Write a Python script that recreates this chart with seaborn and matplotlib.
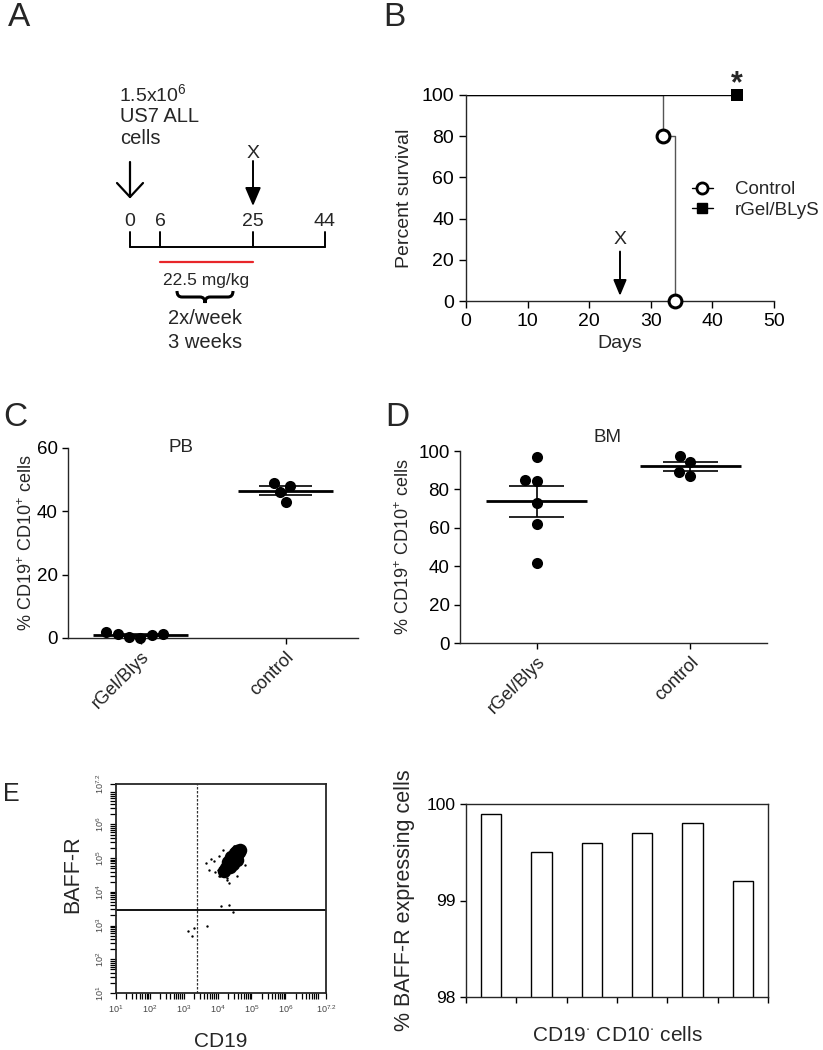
import numpy as np
import pandas as pd
import seaborn as sns
import matplotlib.pyplot as plt
from matplotlib.lines import Line2D
from matplotlib.path import Path
from matplotlib.patches import PathPatch
from matplotlib.ticker import FixedLocator, LogLocator, NullFormatter

# --- A: treatment schedule
timeline_days = [0, 6, 25, 44]
dose_start, dose_end = 6, 25

# --- B: survival curves
control_days = [0, 32, 34]
control_surv = [100, 80, 0]
rgel_days = [0, 44]
rgel_surv = [100, 100]
treatment_stop_day = 25

# --- C / D: % CD19+ CD10+ cells
groups = ['rGel/Blys', 'control']
pb_rgel = [1.3, 0.8, 0.1, 1.9, 0.2, 1.2]
pb_control = [47.9, 49.1, 43.0, 46.1]
bm_rgel = [97.0, 84.9, 84.2, 72.7, 61.9, 41.7]
bm_control = [94.3, 97.4, 87.0, 89.1]

# --- E: flow events (log10 fluorescence)
core_cd19 = [4.20, 4.26, 4.32, 4.38, 4.44, 4.50, 4.56, 4.62, 4.66,
             4.30, 4.40, 4.50, 4.58, 4.36, 4.46, 4.56]
core_baffr = [4.62, 4.70, 4.78, 4.86, 4.94, 5.02, 5.10, 5.18, 5.25,
              4.90, 5.02, 5.14, 5.22, 4.74, 4.84, 4.96]
stray_cd19 = [3.66, 3.75, 3.88, 3.93, 4.03, 4.08, 4.17, 4.27, 4.47, 4.57, 4.76,
              4.81, 4.35, 3.80, 4.00, 4.03, 4.27, 4.10, 4.35, 4.44, 3.70, 3.29,
              3.14, 3.24]
stray_baffr = [4.86, 4.66, 4.91, 4.58, 5.05, 4.46, 5.23, 4.36, 5.35, 4.46, 5.25,
               4.81, 4.26, 4.98, 4.66, 4.46, 4.41, 3.57, 3.60, 3.40, 2.98, 2.93,
               2.83, 2.68]
gate_cd19 = 3.39
gate_baffr = 3.45

# --- E: % BAFF-R expressing cells
samples = ['1', '2', '3', '4', '5', '6']
baffr_pct = [99.9, 99.5, 99.6, 99.7, 99.8, 99.2]

sns.set_style('ticks')
plt.rcParams['font.family'] = ['Liberation Sans', 'DejaVu Sans']
plt.rcParams['mathtext.fontset'] = 'custom'
plt.rcParams['mathtext.rm'] = 'Liberation Sans'
plt.rcParams['mathtext.it'] = 'Liberation Sans'
plt.rcParams['axes.linewidth'] = 1.0
plt.rcParams['xtick.color'] = 'black'
plt.rcParams['ytick.color'] = 'black'

W, H = 823, 1050
fig = plt.figure(figsize=(W / 100, H / 100), dpi=100)


def rect(l, t, r, b):
    return [l / W, 1 - b / H, (r - l) / W, (b - t) / H]


def letter(x, y, s, size=24):
    fig.text(x / W, 1 - y / H, s, ha='left', va='top', fontsize=size)


# ================= A =================
axa = fig.add_axes(rect(0, 0, 380, 400))
axa.set_xlim(0, 380)
axa.set_ylim(400, 0)
axa.axis('off')
tl_x = [130, 160, 253, 325]   # schematic positions of the timeline days
base_y = 247
axa.plot([tl_x[0], tl_x[-1]], [base_y, base_y], color='black', lw=1.4)
for d, px in zip(timeline_days, tl_x):
    axa.plot([px, px], [base_y - 15, base_y], color='black', lw=1.4)
    axa.text(px, 221, str(d), ha='center', va='center', fontsize=14)
x0 = tl_x[timeline_days.index(dose_start)]
x1 = tl_x[timeline_days.index(dose_end)]
axa.plot([x0, x1], [262, 262], color='#e8262a', lw=1.6)
axa.text((x0 + x1) / 2, 281, '22.5 mg/kg', ha='center', va='center', fontsize=12.5)
# curly brace
bx0, bx1, by, bh = 177, 233, 291, 12
bm = (bx0 + bx1) / 2
q = 5
verts = [(bx0, by), (bx0, by + bh / 2), (bx0 + q, by + bh / 2),
         (bm - q, by + bh / 2), (bm, by + bh / 2), (bm, by + bh),
         (bm, by + bh / 2), (bm + q, by + bh / 2),
         (bx1 - q, by + bh / 2), (bx1, by + bh / 2), (bx1, by)]
codes = [Path.MOVETO, Path.CURVE3, Path.CURVE3, Path.LINETO, Path.CURVE3, Path.CURVE3,
         Path.CURVE3, Path.CURVE3, Path.LINETO, Path.CURVE3, Path.CURVE3]
axa.add_patch(PathPatch(Path(verts, codes), fill=False, lw=2.2, color='black'))
axa.text(205, 318, '2x/week', ha='center', va='center', fontsize=14.5)
axa.text(205, 342, '3 weeks', ha='center', va='center', fontsize=14.5)
axa.text(119, 94, '1.5x10$^{6}$', ha='left', va='center', fontsize=14)
axa.text(120, 116, 'US7 ALL', ha='left', va='center', fontsize=14.5)
axa.text(120, 139, 'cells', ha='left', va='center', fontsize=14.5)
# open arrow at day 0
axa.plot([tl_x[0], tl_x[0]], [162, 197], color='black', lw=1.6)
axa.plot([tl_x[0] - 13, tl_x[0], tl_x[0] + 13], [183, 197, 183], color='black', lw=1.6)
# filled arrow at day 25
xs = tl_x[timeline_days.index(treatment_stop_day)]
axa.text(xs, 154, 'X', ha='center', va='center', fontsize=14)
axa.annotate('', xy=(xs, 206), xytext=(xs, 161),
             arrowprops=dict(arrowstyle='-|>,head_length=0.7,head_width=0.3',
                             color='black', lw=1.4, mutation_scale=16, shrinkA=0, shrinkB=0))

# ================= B =================
axb = fig.add_axes(rect(466, 95, 774, 301))
sns.lineplot(x=control_days, y=control_surv, drawstyle='steps-post', color='#555555',
             lw=1.0, ax=axb)
sns.lineplot(x=rgel_days, y=rgel_surv, drawstyle='steps-post', color='black', lw=1.0, ax=axb)
sns.scatterplot(x=control_days[1:], y=control_surv[1:], marker='o', s=85,
                facecolor='white', edgecolor='black', linewidth=2.2, zorder=5,
                clip_on=False, ax=axb)
sns.scatterplot(x=rgel_days[-1:], y=rgel_surv[-1:], marker='s', s=65, color='black',
                linewidth=0, zorder=5, clip_on=False, ax=axb)
axb.set_xlim(0, 50)
axb.set_ylim(0, 100)
axb.set_xticks(range(0, 51, 10))
axb.set_yticks(range(0, 101, 20))
axb.tick_params(direction='out', length=5, width=1, labelsize=14)
axb.set_xlabel('Days', fontsize=14, labelpad=4)
axb.set_ylabel('Percent survival', fontsize=14, labelpad=6)
sns.despine(ax=axb)
axb.text(rgel_days[-1], 105, '*', ha='center', va='center', fontsize=22, fontweight='bold')
axb.text(treatment_stop_day, 30, 'X', ha='center', va='center', fontsize=14)
axb.annotate('', xy=(treatment_stop_day, 2.5), xytext=(treatment_stop_day, 24),
             arrowprops=dict(arrowstyle='-|>,head_length=0.6,head_width=0.25',
                             color='black', lw=1.4, mutation_scale=16, shrinkA=0, shrinkB=0))
handles = [Line2D([], [], color='black', lw=1, marker='o', ms=8, mfc='white', mec='black', mew=2),
           Line2D([], [], color='black', lw=1, marker='s', ms=7.5)]
axb.legend(handles, ['Control', 'rGel/BLyS'], loc='center left',
           bbox_to_anchor=(692 / W, 1 - 200 / H), bbox_transform=fig.transFigure,
           frameon=False, borderpad=0, borderaxespad=0, handlelength=1.1,
           handletextpad=1.2, labelspacing=0.2, fontsize=13.5)


# ================= C / D =================
def dot_panel(ax, rgel_vals, ctrl_vals, ymax, step, title):
    df = pd.DataFrame({'group': [groups[0]] * len(rgel_vals) + [groups[1]] * len(ctrl_vals),
                       'value': rgel_vals + ctrl_vals})
    sns.swarmplot(data=df, x='group', y='value', order=groups, color='black', size=8,
                  ax=ax, clip_on=False, zorder=3)
    for i, vals in enumerate([rgel_vals, ctrl_vals]):
        m = np.mean(vals)
        se = np.std(vals, ddof=1) / np.sqrt(len(vals))
        ax.hlines(m, i - 0.33, i + 0.33, color='black', lw=2, zorder=2)
        ax.hlines([m - se, m + se], i - 0.18, i + 0.18, color='black', lw=1.2, zorder=2)
        ax.vlines(i, m - se, m + se, color='black', lw=1.2, zorder=2)
    ax.set_xlim(-0.5, 1.5)
    ax.set_ylim(0, ymax)
    ax.set_yticks(range(0, ymax + 1, step))
    ax.tick_params(direction='out', length=4, width=1, labelsize=13.5)
    ax.tick_params(axis='x', labelsize=13, labelcolor='#222222')
    plt.setp(ax.get_xticklabels(), rotation=45, ha='right', rotation_mode='anchor')
    ax.set_xlabel('')
    ax.set_ylabel('% CD19$^{+}$ CD10$^{+}$ cells', fontsize=13, labelpad=4)
    ax.text(0.39, 1.0, title, transform=ax.transAxes, ha='center', va='center', fontsize=13.5)
    sns.despine(ax=ax)


axc = fig.add_axes(rect(68, 448, 358, 638))
dot_panel(axc, pb_rgel, pb_control, 60, 20, 'PB')
axc.yaxis.set_label_coords(-0.11, 0.5)
axd = fig.add_axes(rect(460, 451, 767, 643))
dot_panel(axd, bm_rgel, bm_control, 100, 20, 'BM')
axd.texts[-1].set_position((0.48, 1.07))

# ================= E: flow =================
axf = fig.add_axes(rect(116, 784, 326, 993))
sns.scatterplot(x=10 ** np.array(core_cd19), y=10 ** np.array(core_baffr), s=95,
                color='black', linewidth=0, ax=axf)
sns.scatterplot(x=10 ** np.array(stray_cd19), y=10 ** np.array(stray_baffr), s=3,
                color='black', linewidth=0, ax=axf)
axf.set_xscale('log')
axf.set_yscale('log')
lim = (10, 10 ** 7.2)
axf.set_xlim(lim)
axf.set_ylim(lim)
axf.axvline(10 ** gate_cd19, color='#333333', lw=0.9, ls=(0, (2, 1.2)))
axf.axhline(10 ** gate_baffr, color='black', lw=1.3)
major = [10 ** k for k in range(1, 7)] + [10 ** 7.2]
labels = ['$10^{%d}$' % k for k in range(1, 7)] + ['$10^{7.2}$']
for axis in (axf.xaxis, axf.yaxis):
    axis.set_major_locator(FixedLocator(major))
    axis.set_minor_locator(LogLocator(base=10, subs=np.arange(2, 10), numticks=20))
    axis.set_minor_formatter(NullFormatter())
axf.set_xticklabels(labels)
axf.set_yticklabels(labels, rotation=90, va='center')
axf.tick_params(which='both', direction='out', length=4, width=0.9,
                labelsize=6.5, labelcolor='#444444')
for sp in axf.spines.values():
    sp.set_linewidth(1.3)
    sp.set_visible(True)
axf.set_xlabel('CD19', fontsize=15, labelpad=12)
axf.set_ylabel('BAFF-R', fontsize=15.5, labelpad=6)
axf.yaxis.set_label_coords(-0.155, 0.57)

# ================= E: bars =================
axe = fig.add_axes(rect(466, 804, 768, 997))
sns.barplot(x=samples, y=baffr_pct, color='white', edgecolor='black', linewidth=1,
            width=0.4, saturation=1, errorbar=None, ax=axe)
axe.set_ylim(98, 100)
axe.set_yticks([98, 99, 100])
axe.set_xlim(-0.5, len(samples) - 0.5)
axe.set_xticks(np.arange(-0.5, len(samples), 1))
axe.tick_params(direction='out', length=4, width=1, labelsize=12.5)
axe.tick_params(axis='x', labelbottom=False)
for sp in axe.spines.values():
    sp.set_visible(True)
axe.set_xlabel('CD19$^{\\cdot}$ CD10$^{\\cdot}$ cells', fontsize=15, labelpad=17)
axe.set_ylabel('% BAFF-R expressing cells', fontsize=15.5, labelpad=8)

letter(8, 2, 'A')
letter(383, 2, 'B')
letter(3, 402, 'C')
letter(385, 402, 'D')
letter(3, 782, 'E', size=18)

fig.savefig('out.png', dpi=100)
